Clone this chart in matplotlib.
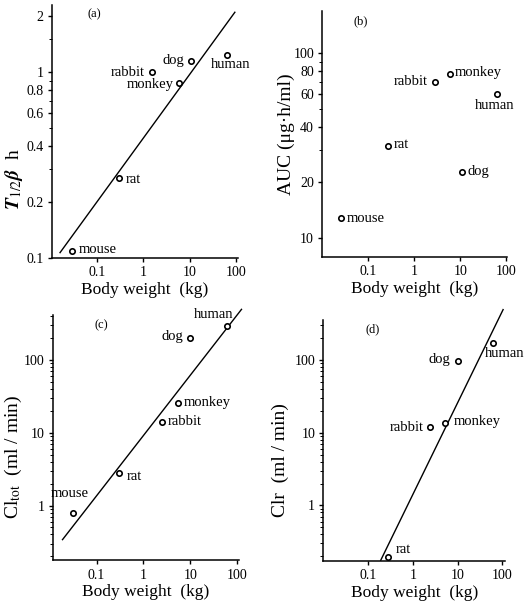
import matplotlib
matplotlib.use("Agg")
import matplotlib.pyplot as plt
import numpy as np
from matplotlib.ticker import FixedLocator, FixedFormatter, NullFormatter, NullLocator

plt.rcParams['font.family'] = ['Liberation Serif', 'DejaVu Serif']
plt.rcParams['mathtext.fontset'] = 'stix'

# (a) half-life
species_a = ['mouse', 'rat', 'rabbit', 'monkey', 'dog', 'human']
weight_a = [0.029, 0.30, 1.55, 5.9, 10.6, 65]
t_half = [0.109, 0.27, 1.0, 0.87, 1.14, 1.24]
fit_a = (0.44, 0.343, 0.016, 95)      # coef, exponent, W range

# (b) AUC
species_b = ['mouse', 'rat', 'rabbit', 'monkey', 'human', 'dog']
weight_b = [0.025, 0.27, 2.8, 5.8, 64, 10.7]
auc = [12.8, 31.6, 70, 77, 60, 22.9]

# (c) total clearance
species_c = ['mouse', 'rat', 'rabbit', 'monkey', 'dog', 'human']
weight_c = [0.031, 0.30, 2.54, 5.6, 10.1, 62]
cl_tot = [0.78, 2.76, 14.2, 25.3, 203, 294]
fit_c = (9.16, 0.829, 0.0188, 124)

# (d) renal clearance
species_d = ['rat', 'rabbit', 'monkey', 'dog', 'human']
weight_d = [0.27, 2.45, 5.3, 10.0, 62]
cl_r = [0.196, 11.9, 13.5, 96, 173]
fit_d = (1.43, 1.256, 0.189, 105)

fig = plt.figure(figsize=(5.32, 6.05), dpi=100)
ax_a = fig.add_axes([0.098, 0.574, 0.349, 0.418])
ax_b = fig.add_axes([0.606, 0.575, 0.347, 0.406])
ax_c = fig.add_axes([0.100, 0.074, 0.349, 0.405])
ax_d = fig.add_axes([0.608, 0.073, 0.341, 0.398])

def style(ax, xlim, ylim, yticks, ylabels, letter, lx=0.17):
    ax.set_xscale('log')
    ax.set_yscale('log')
    ax.set_xlim(*xlim)
    ax.set_ylim(*ylim)
    for s in ['top', 'right']:
        ax.spines[s].set_visible(False)
    for s in ['left', 'bottom']:
        ax.spines[s].set_linewidth(1.1)
    ax.xaxis.set_major_locator(FixedLocator([0.1, 1, 10, 100]))
    ax.xaxis.set_major_formatter(FixedFormatter(['0.1', '1', '10', '100']))
    ax.xaxis.set_minor_locator(NullLocator())
    ax.yaxis.set_major_locator(FixedLocator(yticks))
    ax.yaxis.set_major_formatter(FixedFormatter(ylabels))
    ax.yaxis.set_minor_formatter(NullFormatter())
    ax.tick_params(axis='both', which='major', direction='out', length=3,
                   width=1, labelsize=10, pad=3)
    ax.tick_params(axis='both', which='minor', direction='out', length=2, width=0.7)
    ax.set_xlabel('Body weight  (kg)', fontsize=12.5, labelpad=2)
    ax.text(lx, 0.985, letter, transform=ax.transAxes, fontsize=9,
            ha='left', va='top')

def points(ax, w, v, names, offsets):
    ax.scatter(w, v, s=15, facecolor='white', edgecolor='black',
               linewidth=1.2, zorder=3, clip_on=False)
    for x, y, n, (dx, dy, ha) in zip(w, v, names, offsets):
        ax.annotate(n, (x, y), xytext=(dx, dy), textcoords='offset points',
                    ha=ha, va='center', fontsize=10.5)

def fit_line(ax, fit):
    c, b, w0, w1 = fit
    w = np.array([w0, w1])
    ax.plot(w, c * w ** b, color='black', lw=1.0, clip_on=False)

# (a)
style(ax_a, (0.0108, 110), (0.1, 2.3), [0.1, 0.2, 0.4, 0.6, 0.8, 1, 2],
      ['0.1', '0.2', '0.4', '0.6', '0.8', '1', '2'], '(a)', lx=0.19)
ax_a.yaxis.set_minor_locator(FixedLocator([0.3, 0.5, 0.7, 0.9, 1.5]))
fit_line(ax_a, fit_a)
points(ax_a, weight_a, t_half, species_a,
       [(5, 1, 'left'), (5, -1, 'left'), (-5, 0, 'right'), (-4, -1, 'right'),
        (-5, 1, 'right'), (-12, -7, 'left')])
ax_a.set_ylabel(r'$\boldsymbol{T}_{1/2}\boldsymbol{\beta}$  h', fontsize=14)
ax_a.yaxis.set_label_coords(-0.145, 0.31)

# (b)
style(ax_b, (0.01, 103), (7.9, 168), [10, 20, 40, 60, 80, 100],
      ['10', '20', '40', '60', '80', '100'], '(b)', lx=0.17)
ax_b.yaxis.set_minor_locator(FixedLocator([30, 50, 70, 90]))
points(ax_b, weight_b, auc, species_b,
       [(4, 0, 'left'), (4, 1, 'left'), (-5, 0, 'right'), (4, 1, 'left'),
        (-16, -8, 'left'), (4, 0, 'left')])
ax_b.set_ylabel('AUC (μg·h/ml)', fontsize=14)
ax_b.yaxis.set_label_coords(-0.148, 0.5)

# (c)
style(ax_c, (0.0119, 109), (0.177, 414), [1, 10, 100], ['1', '10', '100'],
      '(c)', lx=0.22)
fit_line(ax_c, fit_c)
points(ax_c, weight_c, cl_tot, species_c,
       [(-16, 14, 'left'), (6, -2, 'left'), (4, 0, 'left'), (4, 1, 'left'),
        (-5, 1, 'right'), (-24, 8, 'left')])
ax_c.set_ylabel(r'Cl$_{\rm tot}$  (ml / min)', fontsize=14)
ax_c.yaxis.set_label_coords(-0.158, 0.42)

# (d)
style(ax_d, (0.0098, 115), (0.173, 355), [1, 10, 100], ['1', '10', '100'],
      '(d)', lx=0.23)
fit_line(ax_d, fit_d)
points(ax_d, weight_d, cl_r, species_d,
       [(6, 5, 'left'), (-5, 0, 'right'), (6, 1, 'left'), (-5, 1, 'right'),
        (-6, -8, 'left')])
ax_d.set_ylabel('Clr  (ml / min)', fontsize=14)
ax_d.yaxis.set_label_coords(-0.189, 0.42)

fig.savefig('out.png', dpi=100, facecolor='white')
